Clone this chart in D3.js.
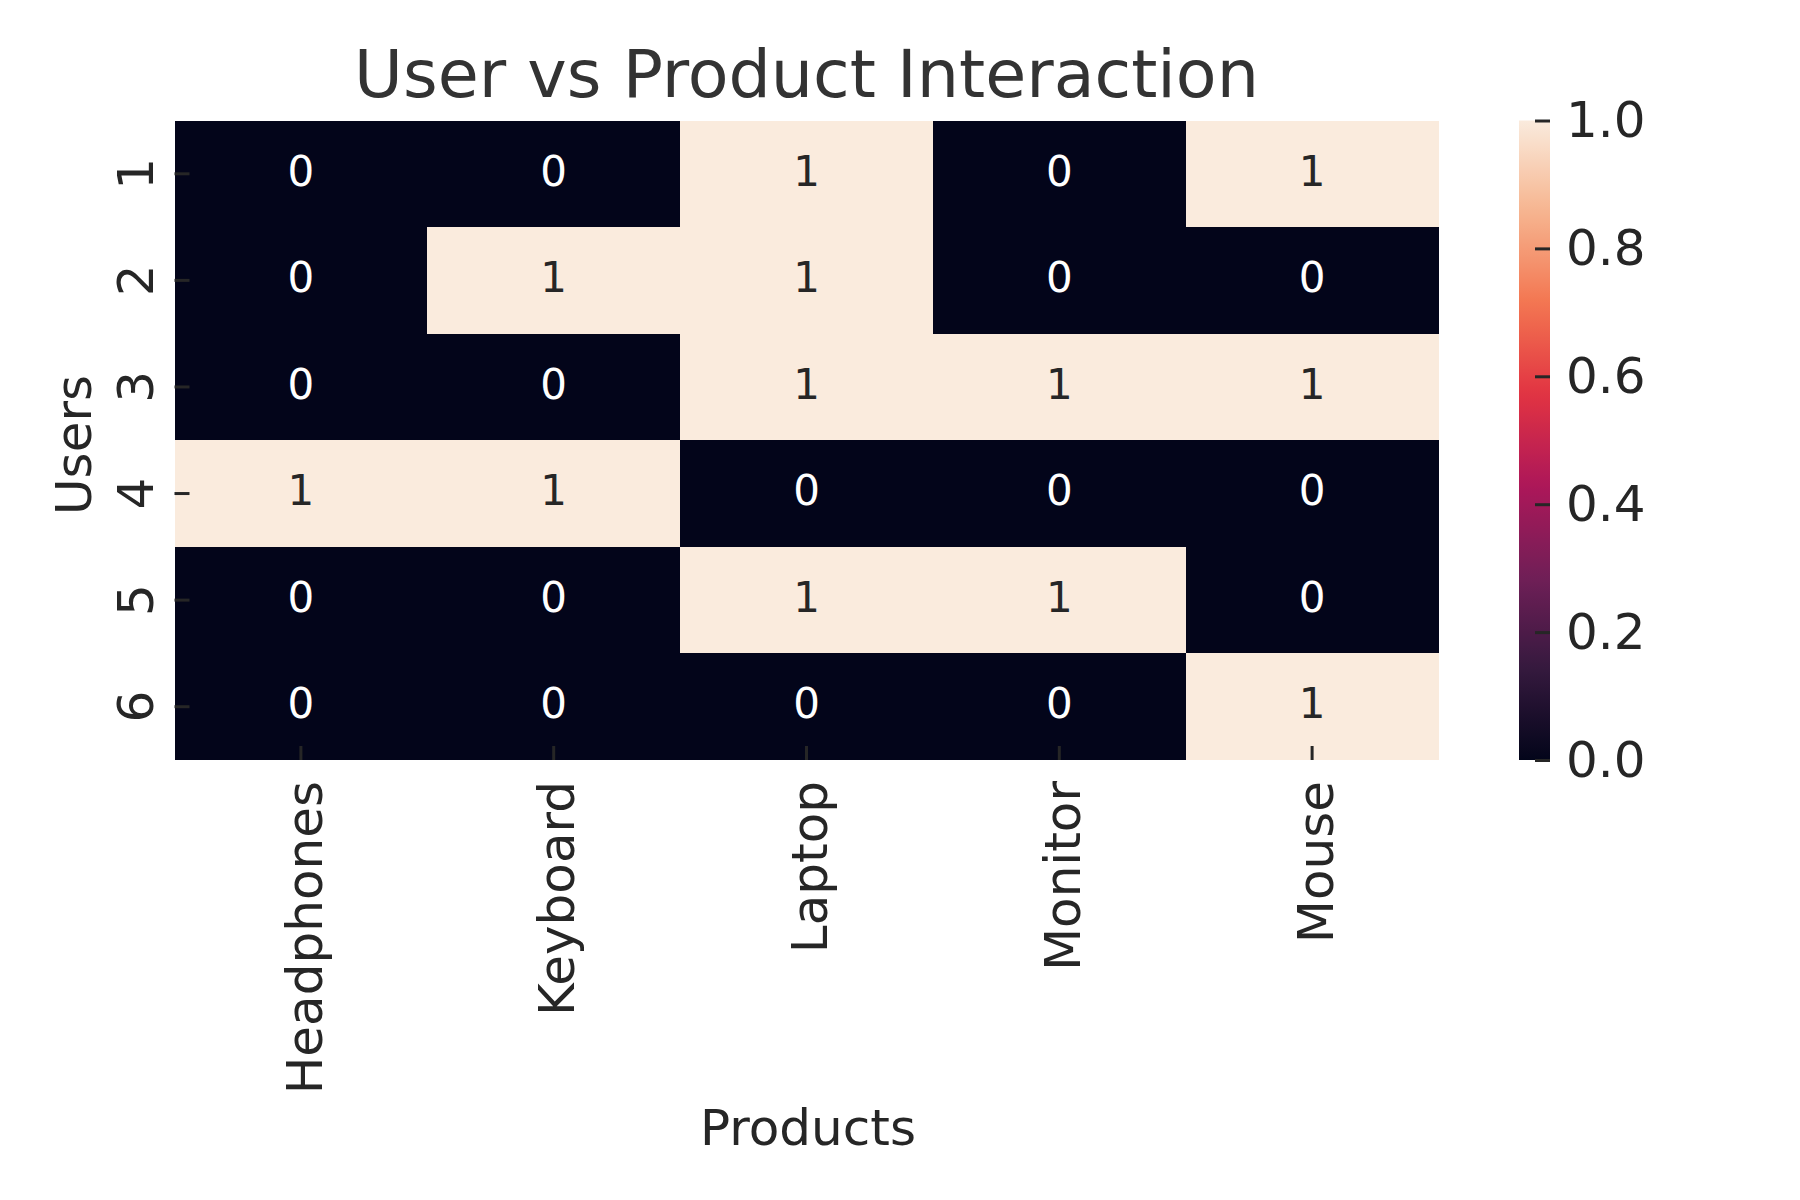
<!DOCTYPE html>
<html>
<head>
<meta charset="utf-8">
<script src="https://cdn.jsdelivr.net/npm/d3@7"></script>
<style>
  html, body { margin: 0; padding: 0; background: #fff; }
  svg { display: block; font-family: "DejaVu Sans", sans-serif; }
</style>
</head>
<body>
<svg id="chart" width="1800" height="1200"></svg>
<script>
// ---- data ----
const users = ["1", "2", "3", "4", "5", "6"];
const products = ["Headphones", "Keyboard", "Laptop", "Monitor", "Mouse"];
const interactions = [
  [0, 0, 1, 0, 1],
  [0, 1, 1, 0, 0],
  [0, 0, 1, 1, 1],
  [1, 1, 0, 0, 0],
  [0, 0, 1, 1, 0],
  [0, 0, 0, 0, 1]
];
const colorbarTicks = [0, 0.2, 0.4, 0.6, 0.8, 1.0];
const title = "User vs Product Interaction";
const xLabel = "Products";
const yLabel = "Users";

// rocket colormap approximation
const rocketStops = ["#03051a", "#35193e", "#701f57", "#ad1759", "#e13342", "#f37651", "#f6b48f", "#faebdd"];
const rocketPos = [0, 1/7, 2/7, 3/7, 4/7, 5/7, 6/7, 1];

// ---- layout ----
const svg = d3.select("#chart");
const L = 174.5, R = 1438.5, T = 120.5, B = 760;
const textColor = "#262626";

const x = d3.scaleBand().domain(products).range([L, R]).padding(0);
const y = d3.scaleBand().domain(users).range([T, B]).padding(0);
const color = d3.scaleLinear().domain(rocketPos).range(rocketStops).interpolate(d3.interpolateRgb);

const cells = [];
interactions.forEach((row, i) => row.forEach((v, j) => cells.push({u: users[i], p: products[j], v})));

svg.append("g").attr("shape-rendering", "crispEdges").selectAll("rect").data(cells).join("rect")
  .attr("x", d => Math.round(x(d.p)))
  .attr("y", d => Math.round(y(d.u)))
  .attr("width", d => Math.round(x(d.p) + x.bandwidth()) - Math.round(x(d.p)))
  .attr("height", d => Math.round(y(d.u) + y.bandwidth()) - Math.round(y(d.u)))
  .attr("fill", d => color(d.v));

svg.append("g").selectAll("text").data(cells).join("text")
  .attr("x", d => x(d.p) + x.bandwidth() / 2)
  .attr("y", d => y(d.u) + y.bandwidth() / 2)
  .attr("dy", "0.28em")
  .attr("text-anchor", "middle")
  .attr("font-size", 42)
  .attr("fill", d => d.v > 0.5 ? textColor : "#ffffff")
  .text(d => d.v);

// x axis (inward ticks)
const xAxis = svg.append("g").attr("transform", `translate(0,${B})`)
  .call(d3.axisBottom(x).tickSizeInner(-14).tickSizeOuter(0));
xAxis.select(".domain").remove();
xAxis.selectAll(".tick line").attr("stroke", textColor).attr("stroke-width", 3);
xAxis.selectAll(".tick text")
  .attr("transform", "rotate(-90)")
  .attr("x", -21).attr("y", 20.6).attr("dy", null)
  .attr("text-anchor", "end")
  .attr("font-size", 50)
  .attr("fill", textColor)
  .attr("font-family", "DejaVu Sans");

// y axis (inward ticks)
const yAxis = svg.append("g").attr("transform", `translate(${L},0)`)
  .call(d3.axisLeft(y).tickSizeInner(-15).tickSizeOuter(0));
yAxis.select(".domain").remove();
yAxis.selectAll(".tick line").attr("stroke", textColor).attr("stroke-width", 3);
yAxis.selectAll(".tick text")
  .attr("transform", "rotate(-90)")
  .attr("x", 0).attr("y", -21.5).attr("dy", null)
  .attr("text-anchor", "middle")
  .attr("font-size", 50)
  .attr("fill", textColor)
  .attr("font-family", "DejaVu Sans");

// colorbar
const cbL = 1519, cbR = 1550;
const defs = svg.append("defs");
const grad = defs.append("linearGradient").attr("id", "rocket")
  .attr("x1", 0).attr("y1", 1).attr("x2", 0).attr("y2", 0);
d3.range(0, 1.0001, 0.02).forEach(t => {
  grad.append("stop").attr("offset", t).attr("stop-color", color(t));
});
svg.append("rect").attr("x", cbL).attr("y", T).attr("width", cbR - cbL).attr("height", B - T)
  .attr("fill", "url(#rocket)");
const cbScale = d3.scaleLinear().domain([0, 1]).range([B, T]);
const cbAxis = svg.append("g").attr("transform", `translate(${cbR},0)`)
  .call(d3.axisRight(cbScale).tickValues(colorbarTicks).tickFormat(d3.format(".1f"))
    .tickSizeInner(-15).tickSizeOuter(0).tickPadding(16));
cbAxis.select(".domain").remove();
cbAxis.selectAll(".tick line").attr("stroke", textColor).attr("stroke-width", 3);
cbAxis.selectAll(".tick text")
  .attr("font-size", 50)
  .attr("fill", textColor)
  .attr("font-family", "DejaVu Sans");

// title and labels
svg.append("text").attr("x", (L + R) / 2).attr("y", 97)
  .attr("text-anchor", "middle").attr("font-size", 66.7).attr("fill", "#333333")
  .text(title);
svg.append("text").attr("x", 808).attr("y", 1145)
  .attr("text-anchor", "middle").attr("font-size", 50).attr("fill", textColor)
  .text(xLabel);
svg.append("text").attr("transform", "translate(91,445) rotate(-90)")
  .attr("text-anchor", "middle").attr("font-size", 50).attr("fill", textColor)
  .text(yLabel);
</script>
</body>
</html>
